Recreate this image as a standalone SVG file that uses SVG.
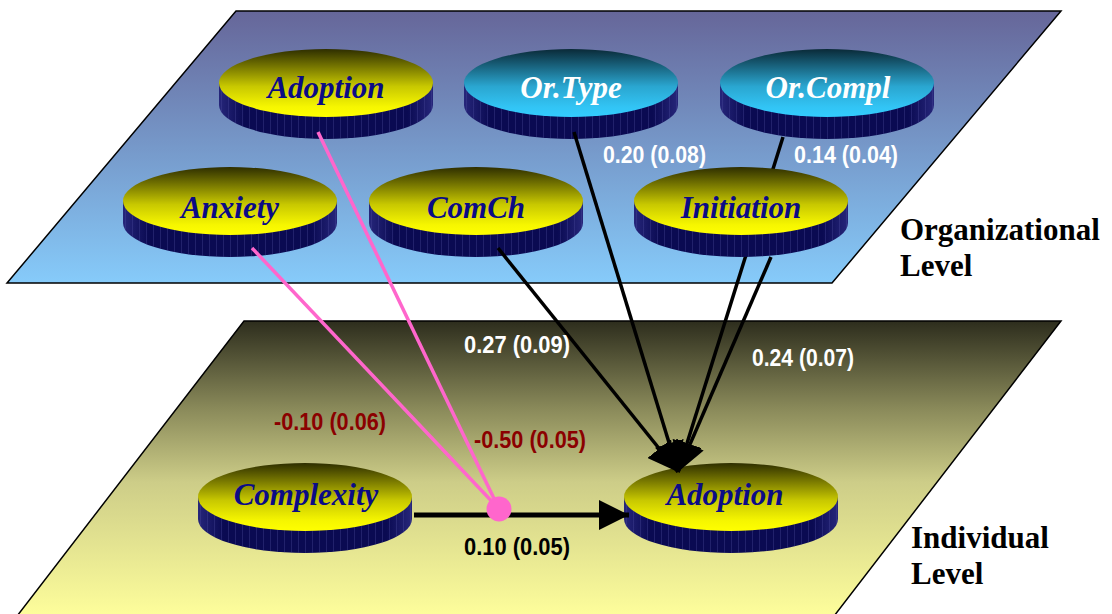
<svg xmlns="http://www.w3.org/2000/svg" xmlns:xlink="http://www.w3.org/1999/xlink" width="1112" height="614" viewBox="0 0 1112 614">
<defs>
<linearGradient id="gTop" x1="0" y1="0" x2="0" y2="1">
<stop offset="0" stop-color="#666699"/>
<stop offset="1" stop-color="#86cbfa"/>
</linearGradient>
<linearGradient id="gBot" gradientUnits="userSpaceOnUse" x1="0" y1="321" x2="0" y2="614">
<stop offset="0" stop-color="#2d2d1d"/>
<stop offset="0.3" stop-color="#8a8a5a"/>
<stop offset="0.55" stop-color="#cdcd88"/>
<stop offset="1" stop-color="#fdfd9b"/>
</linearGradient>
<linearGradient id="gFaceY" x1="0" y1="0" x2="0" y2="1">
<stop offset="0" stop-color="#2e2e00"/>
<stop offset="0.55" stop-color="#c8c800"/>
<stop offset="0.85" stop-color="#f6f600"/>
<stop offset="1" stop-color="#ffff00"/>
</linearGradient>
<linearGradient id="gFaceB" x1="0" y1="0" x2="0" y2="1">
<stop offset="0" stop-color="#0a2a38"/>
<stop offset="0.55" stop-color="#2aa6d0"/>
<stop offset="0.85" stop-color="#32c4f4"/>
<stop offset="1" stop-color="#33ccff"/>
</linearGradient>
<linearGradient id="gSide" x1="0" y1="0" x2="1" y2="0">
<stop offset="0" stop-color="#26267a"/>
<stop offset="0.12" stop-color="#0a0a52"/>
<stop offset="0.88" stop-color="#0a0a52"/>
<stop offset="1" stop-color="#26267a"/>
</linearGradient>
<pattern id="pStripe" patternUnits="userSpaceOnUse" width="7" height="60">
<rect x="0" y="0" width="1" height="60" fill="#4a4a9a" opacity="0.35"/>
</pattern>
<g id="diskY">
<path d="M-107,0 L-107,22 A107,34 0 0 0 107,22 L107,0 Z" fill="url(#gSide)"/>
<path d="M-107,0 L-107,22 A107,34 0 0 0 107,22 L107,0 Z" fill="url(#pStripe)"/>
<ellipse cx="0" cy="0" rx="107" ry="34" fill="url(#gFaceY)"/>
</g>
<g id="diskB">
<path d="M-107,0 L-107,22 A107,34 0 0 0 107,22 L107,0 Z" fill="url(#gSide)"/>
<path d="M-107,0 L-107,22 A107,34 0 0 0 107,22 L107,0 Z" fill="url(#pStripe)"/>
<ellipse cx="0" cy="0" rx="107" ry="34" fill="url(#gFaceB)"/>
</g>
<marker id="arr" markerUnits="userSpaceOnUse" markerWidth="30" markerHeight="30" refX="30" refY="15" orient="auto" viewBox="0 0 30 30">
<path d="M0,0 L30,15 L0,30 Z" fill="#000"/>
</marker>
</defs>
<style>
.plane{stroke:#000;stroke-width:1.5}
.nm{font-family:"Liberation Serif","Times New Roman",serif;font-weight:bold;font-style:italic;font-size:31px;text-anchor:middle}
.dk{fill:#0b0b86}
.wh{fill:#ffffff}
.lvl{font-family:"Liberation Serif","Times New Roman",serif;font-weight:bold;font-size:31px;fill:#000}
.num{font-family:"Liberation Sans",Arial,sans-serif;font-weight:bold;font-size:24px}
.w{fill:#ffffff}
.r{fill:#8b0000}
.b{fill:#000}
.pink{stroke:#ff66cc;stroke-width:3.5;fill:none}
.blk{stroke:#000;stroke-width:3.5;fill:none}
</style>
<g id="planes">
<polygon class="plane" points="236,11 1061,11 832,283 7,283" fill="url(#gTop)"/>
<polygon class="plane" points="244,321 1061,321 831,620 14,620" fill="url(#gBot)"/>
</g>
<g id="node-adoption-org" transform="translate(326,83)">
<use href="#diskY"/>
<text class="nm dk" x="0" y="15">Adoption</text>
</g>
<g id="node-ortype" transform="translate(571,83)">
<use href="#diskB"/>
<text class="nm wh" x="0" y="15">Or.Type</text>
</g>
<g id="node-orcompl" transform="translate(827,83)">
<use href="#diskB"/>
<text class="nm wh" x="1" y="15">Or.Compl</text>
</g>
<g id="node-anxiety" transform="translate(230,201)">
<use href="#diskY"/>
<text class="nm dk" x="0" y="17">Anxiety</text>
</g>
<g id="node-comch" transform="translate(476,201)">
<use href="#diskY"/>
<text class="nm dk" x="0" y="17">ComCh</text>
</g>
<g id="node-complexity" transform="translate(305,497)">
<use href="#diskY"/>
<text class="nm dk" x="1" y="8">Complexity</text>
</g>
<g id="node-adoption-ind" transform="translate(731,497)">
<use href="#diskY"/>
<text class="nm dk" x="-6" y="8">Adoption</text>
</g>
<g id="connectors">
<line class="pink" x1="318" y1="132" x2="499" y2="509"/>
<line class="pink" x1="252" y1="248" x2="499" y2="509"/>
<line class="blk" x1="498" y1="248" x2="678" y2="472" marker-end="url(#arr)"/>
<line class="blk" x1="574" y1="132" x2="678" y2="472" marker-end="url(#arr)"/>
<line class="blk" x1="783" y1="137" x2="678" y2="472" marker-end="url(#arr)"/>
<line class="blk" x1="771" y1="257" x2="678" y2="472" marker-end="url(#arr)"/>
<line x1="414" y1="515" x2="629" y2="515" stroke="#000" stroke-width="5" marker-end="url(#arr)"/>
<circle cx="499" cy="509" r="12.5" fill="#ff66cc"/>
</g>
<g id="node-initiation" transform="translate(741,201)">
<use href="#diskY"/>
<text class="nm dk" x="0" y="17">Initiation</text>
</g>
<g id="labels">
<text class="num w" x="603" y="163" textLength="103" lengthAdjust="spacingAndGlyphs">0.20 (0.08)</text>
<text class="num w" x="794" y="163" textLength="104" lengthAdjust="spacingAndGlyphs">0.14 (0.04)</text>
<text class="num w" x="464" y="353" textLength="106" lengthAdjust="spacingAndGlyphs">0.27 (0.09)</text>
<text class="num w" x="752" y="366" textLength="102" lengthAdjust="spacingAndGlyphs">0.24 (0.07)</text>
<text class="num r" x="274" y="430" textLength="112" lengthAdjust="spacingAndGlyphs">-0.10 (0.06)</text>
<text class="num r" x="474" y="448" textLength="112" lengthAdjust="spacingAndGlyphs">-0.50 (0.05)</text>
<text class="num b" x="464" y="555" textLength="106" lengthAdjust="spacingAndGlyphs">0.10 (0.05)</text>
<text class="lvl" x="900" y="240">Organizational</text>
<text class="lvl" x="900" y="276">Level</text>
<text class="lvl" x="911" y="548">Individual</text>
<text class="lvl" x="911" y="584">Level</text>
</g>
</svg>
